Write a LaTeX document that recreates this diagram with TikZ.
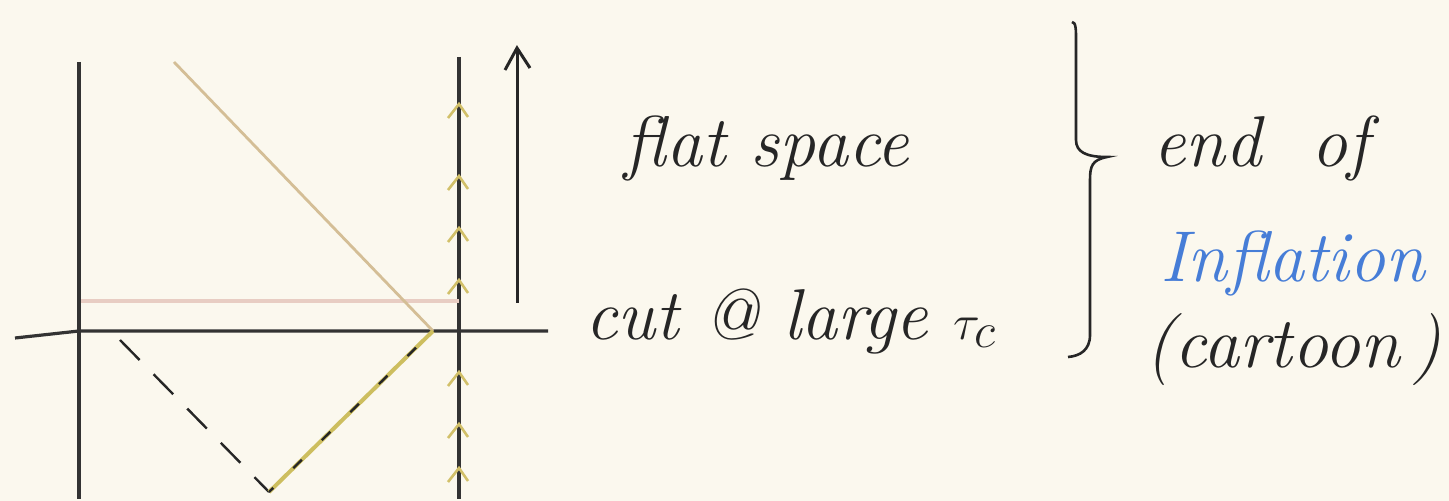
\documentclass[tikz,border=0pt]{standalone}
\usepackage{fontspec}
\setmainfont{Latin Modern Roman}
\definecolor{paper}{RGB}{251,248,238}
\definecolor{tanc}{RGB}{212,190,150}
\definecolor{pinkc}{RGB}{232,205,195}
\definecolor{yelc}{RGB}{205,190,95}
\definecolor{chevc}{RGB}{210,192,105}
\definecolor{bluec}{RGB}{70,125,215}
\begin{document}
\begin{tikzpicture}[x=0.5pt,y=-0.5pt,
  axis/.style={draw=black!80, line width=1.6pt},
  ink/.style={draw=black!85, line width=1.2pt},
  tanline/.style={draw=tanc, line width=1.4pt},
  pinkline/.style={draw=pinkc, line width=2pt},
  yel/.style={draw=yelc, line width=1.4pt},
  chev/.style={draw=chevc, line width=1.3pt},
  hand/.style={font=\itshape\fontsize{36}{42}\selectfont, text=black!85, inner sep=0pt},
  bluetext/.style={text=bluec}]
\fill[paper] (0,0) rectangle (1449,501);
\useasboundingbox (0,0) rectangle (1449,501);
% axes coordinates
\coordinate (LT) at (79,62);
\coordinate (LB) at (79,499);
\coordinate (HL) at (15,338);
\coordinate (HO) at (79,331);
\coordinate (HR) at (548,331);
\coordinate (RT) at (459,57);
\coordinate (RB) at (459,499);
\coordinate (AT) at (517,48);
\coordinate (AB) at (517,303);
\coordinate (D1) at (174,62);
\coordinate (D2) at (433,331);
\coordinate (P1) at (81,301);
\coordinate (P2) at (459,301);
\coordinate (V0) at (120,340);
\coordinate (VB) at (269,492);
% axes
\draw[axis] (LT) -- (LB);
\draw[axis] (HL) -- (HO) -- (HR);
\draw[axis] (RT) -- (RB);
% pink and tan lines
\draw[pinkline] (P1) -- (P2);
\draw[tanline] (D1) -- (D2);
% V shape
\draw[ink, dash pattern=on 14pt off 10pt] (V0) -- (VB);
\draw[yel, line width=2pt] (VB) -- (D2);
\draw[ink, dash pattern=on 6pt off 14pt, dash phase=3pt] (VB) -- (D2);
% chevrons on right axis
\foreach \yy in {104,176,228,280,372,424,468}
  \draw[chev] (448,\yy+14) -- (459,\yy) -- (468,\yy+13);
% flat space arrow
\draw[ink, line width=1.5pt] (AB) -- (AT);
\draw[ink, line width=1.5pt] (505,70) -- (AT) -- (530,68);
% brace
\draw[ink, line width=1.3pt] (1072,22) .. controls (1076,22) and (1076,30) .. (1076,40)
  -- (1076,140) .. controls (1076,152) and (1086,157) .. (1107,157)
  .. controls (1092,160) and (1090,166) .. (1090,180)
  -- (1090,335) .. controls (1090,350) and (1080,356) .. (1068,357);
% texts
\node[hand, anchor=base] (flat) at (767,167) {flat space};
\node[hand, anchor=base] (cut) at (791,340) {cut @ large $\tau_c$};
\node[hand, anchor=base west] (end) at (1153,167) {end\ \ of};
\node[hand, bluetext, anchor=base west] (infl) at (1160,282) {Inflation};
\node[hand, anchor=base west] (cart) at (1145,368) {(cartoon\,)};
\end{tikzpicture}
\end{document}
